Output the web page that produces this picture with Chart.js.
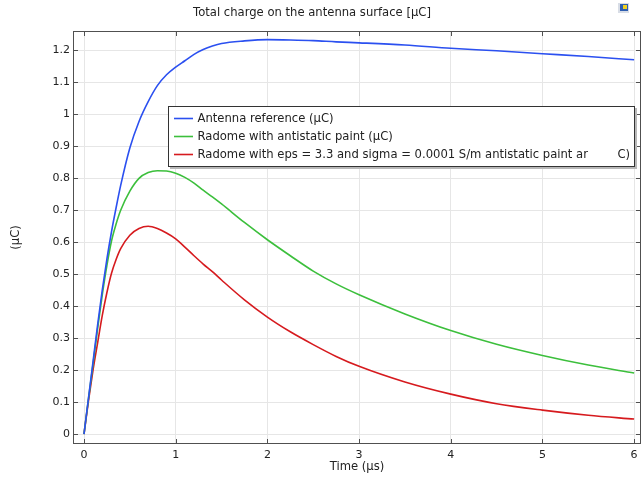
<!DOCTYPE html>
<html><head><meta charset="utf-8">
<script src="https://cdn.jsdelivr.net/npm/chart.js@4/dist/chart.umd.min.js"></script>
<style>html,body{margin:0;padding:0;background:#fff;}#wrap{width:642px;height:477px;}</style>
</head><body><div id="wrap"><canvas id="c" width="642" height="477"></canvas></div>
<script>
const times        = [0, 0.05, 0.1, 0.15, 0.2, 0.25, 0.3, 0.35, 0.4, 0.5, 0.6, 0.7, 0.8, 0.9, 1.0, 1.1, 1.2, 1.3, 1.4, 1.5, 1.75, 2.0, 2.25, 2.5, 2.75, 3.0, 3.5, 4.0, 4.5, 5.0, 5.5, 6.0];
const antennaRef   = [0, 0.115, 0.23, 0.345, 0.452, 0.548, 0.633, 0.708, 0.778, 0.895, 0.978, 1.04, 1.09, 1.124, 1.148, 1.168, 1.188, 1.203, 1.214, 1.222, 1.23, 1.234, 1.233, 1.231, 1.227, 1.224, 1.217, 1.207, 1.199, 1.19, 1.181, 1.171];
const radomePaint  = [0, 0.113, 0.222, 0.333, 0.437, 0.528, 0.604, 0.657, 0.7, 0.76, 0.8, 0.818, 0.824, 0.823, 0.816, 0.803, 0.785, 0.763, 0.742, 0.72, 0.662, 0.608, 0.558, 0.51, 0.47, 0.436, 0.376, 0.324, 0.281, 0.246, 0.216, 0.191];
const radomeEps    = [0, 0.106, 0.203, 0.288, 0.372, 0.443, 0.503, 0.546, 0.58, 0.622, 0.643, 0.65, 0.643, 0.629, 0.611, 0.585, 0.558, 0.532, 0.508, 0.482, 0.42, 0.366, 0.32, 0.28, 0.243, 0.212, 0.163, 0.125, 0.095, 0.075, 0.059, 0.047];
const seriesLabels = ['Antenna reference (µC)', 'Radome with antistatic paint (µC)', 'Radome with eps = 3.3 and sigma = 0.0001 S/m antistatic paint ar        C)'];
const seriesColors = ['#2b50f0', '#3cbf3c', '#d61a1e'];
const xTicks = [0, 1, 2, 3, 4, 5, 6];
const yTicks = [0, 0.1, 0.2, 0.3, 0.4, 0.5, 0.6, 0.7, 0.8, 0.9, 1.0, 1.1, 1.2];
const titleText = 'Total charge on the antenna surface [µC]';
const xTitle = 'Time (µs)';
const yTitle = '(µC)';

const FONT = '"DejaVu Sans", sans-serif';
const seriesValues = [antennaRef, radomePaint, radomeEps];

const decor = {
  id: 'decor',
  afterDraw(chart) {
    const {ctx, chartArea: a, scales: {x, y}} = chart;
    ctx.save();
    ctx.strokeStyle = '#505050'; ctx.lineWidth = 1;
    ctx.strokeRect(a.left + 0.5, a.top + 0.5, a.right - a.left - 1, a.bottom - a.top - 1);
    ctx.beginPath();
    x.ticks.forEach(t => {
      const px = Math.round(x.getPixelForValue(t.value)) + 0.5;
      ctx.moveTo(px, a.bottom); ctx.lineTo(px, a.bottom - 5);
      ctx.moveTo(px, a.top); ctx.lineTo(px, a.top + 5);
    });
    y.ticks.forEach(t => {
      const py = Math.round(y.getPixelForValue(t.value)) + 0.5;
      ctx.moveTo(a.left, py); ctx.lineTo(a.left + 5, py);
      ctx.moveTo(a.right, py); ctx.lineTo(a.right - 5, py);
    });
    ctx.stroke();
    ctx.fillStyle = '#222';
    ctx.font = '11.6px ' + FONT;
    ctx.textAlign = 'center'; ctx.textBaseline = 'middle';
    ctx.fillText(titleText, 312, 13);
    const L = 168, T = 106, W = 467, H = 61;
    ctx.fillStyle = '#b8b8b8';
    ctx.fillRect(L + 2, T + 2, W, H);
    ctx.fillStyle = '#fff';
    ctx.fillRect(L, T, W, H);
    ctx.strokeStyle = '#333';
    ctx.strokeRect(L + 0.5, T + 0.5, W - 1, H - 1);
    ctx.textAlign = 'left';
    chart.data.datasets.forEach((ds, i) => {
      const yy = T + 12.5 + i * 18;
      ctx.strokeStyle = ds.borderColor; ctx.lineWidth = 1.6;
      ctx.beginPath(); ctx.moveTo(174, yy); ctx.lineTo(193, yy); ctx.stroke();
      ctx.fillStyle = '#222';
      ctx.fillText(ds.label, 197.5, yy);
    });
    ctx.fillStyle = '#d8dde6'; ctx.fillRect(618, 3, 11, 10);
    ctx.fillStyle = '#2f5fb0'; ctx.fillRect(620, 4, 8, 7);
    ctx.fillStyle = '#f0d020'; ctx.fillRect(623, 5, 4, 4);
    ctx.restore();
  }
};

new Chart(document.getElementById('c'), {
  type: 'line',
  data: {
    datasets: seriesValues.map((vals, i) => ({
      label: seriesLabels[i],
      data: times.map((t, k) => ({x: t, y: vals[k]})),
      borderColor: seriesColors[i],
      backgroundColor: seriesColors[i],
      borderWidth: 1.6,
      pointRadius: 0,
      fill: false,
      cubicInterpolationMode: 'monotone'
    }))
  },
  options: {
    responsive: false,
    animation: false,
    devicePixelRatio: 1,
    layout: {padding: {top: 31, right: 1, left: 0, bottom: 0}},
    plugins: {legend: {display: false}, title: {display: false}, tooltip: {enabled: false}},
    scales: {
      x: {
        type: 'linear', min: -0.12, max: 6.075,
        afterBuildTicks: s => { s.ticks = xTicks.map(v => ({value: v})); },
        afterFit: s => { s.height = 33; s.paddingLeft = 0; s.paddingRight = 0; },
        grid: {color: '#e6e6e6', drawTicks: false},
        border: {display: false},
        ticks: {autoSkip: false, maxRotation: 0, padding: 5, color: '#222', font: {family: FONT, size: 11}, callback: v => String(v)},
        title: {display: true, text: xTitle, color: '#222', font: {family: FONT, size: 11.6}, padding: {top: 0, bottom: 3}}
      },
      y: {
        type: 'linear', min: -0.031, max: 1.261,
        afterBuildTicks: s => { s.ticks = yTicks.map(v => ({value: v})); },
        afterFit: s => { s.width = 73; s.paddingTop = 0; s.paddingBottom = 0; },
        grid: {color: '#e6e6e6', drawTicks: false},
        border: {display: false},
        ticks: {autoSkip: false, padding: 3, color: '#222', font: {family: FONT, size: 11}, callback: v => String(Math.round(v * 10) / 10)},
        title: {display: true, text: yTitle, color: '#222', font: {family: FONT, size: 11.6}, padding: {top: 9, bottom: 0}}
      }
    }
  },
  plugins: [decor]
});
</script></body></html>
